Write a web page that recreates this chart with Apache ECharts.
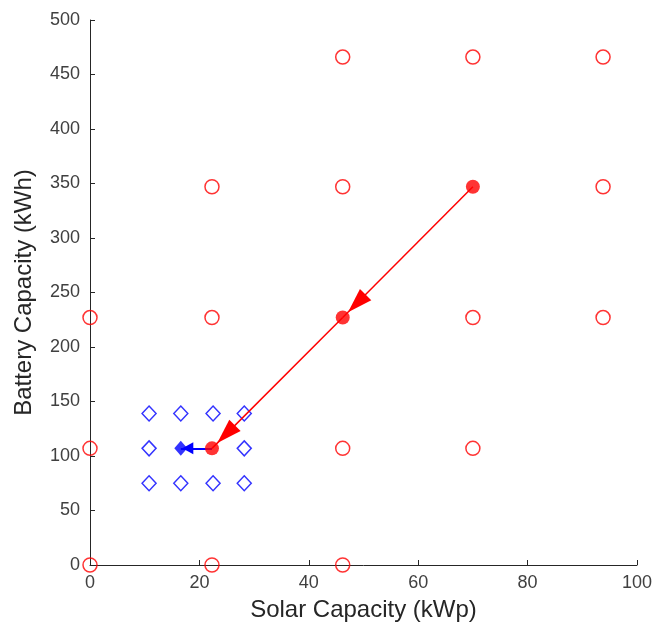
<!DOCTYPE html>
<html>
<head>
<meta charset="utf-8">
<script src="https://cdn.jsdelivr.net/npm/echarts@6/dist/echarts.min.js"></script>
<style>
  html, body { margin: 0; padding: 0; background: #fff; }
  #chart { width: 655px; height: 632px; }
</style>
</head>
<body>
<div id="chart"></div>
<script>
// Candidate sizes evaluated on the coarse grid (open red circles)
const coarseSolar   = [0, 22.3, 46.2, 0, 46.2, 70, 0, 22.3, 70, 93.8, 22.3, 46.2, 93.8, 46.2, 70, 93.8];
const coarseBattery = [0, 0, 0, 107, 107, 107, 227, 227, 227, 227, 347, 347, 347, 466, 466, 466];

// Accepted steps of the coarse search (filled red circles), in visiting order
const pathSolar   = [70, 46.2, 22.3];
const pathBattery = [347, 227, 107];

// Candidates on the refined grid (open blue diamonds)
const fineSolar   = [10.8, 16.6, 22.5, 28.2, 10.8, 28.2, 10.8, 16.6, 22.5, 28.2];
const fineBattery = [139, 139, 139, 139, 107, 107, 75, 75, 75, 75];

// Final optimum (filled blue diamond)
const bestSolar   = [16.6];
const bestBattery = [107];

const xTicks = { min: 0, max: 100, interval: 20 };
const yTicks = { min: 0, max: 500, interval: 50 };

const RED = '#ff0000';
const BLUE = '#0000ff';
const AXIS = '#262626';
const FONT = '"Liberation Sans", Arial, sans-serif';

const zip = (xs, ys) => xs.map((x, i) => [x, ys[i]]);

const pathPts = zip(pathSolar, pathBattery);
const redSegments = [];
for (let i = 0; i < pathPts.length - 1; i++) {
  redSegments.push([{ coord: pathPts[i] }, { coord: pathPts[i + 1] }]);
}
const bestPts = zip(bestSolar, bestBattery);
const blueSegments = [[{ coord: pathPts[pathPts.length - 1] }, { coord: bestPts[0] }]];

const chart = echarts.init(document.getElementById('chart'), null, { renderer: 'canvas' });

const axisCommon = {
  type: 'value',
  axisLine: { show: true, lineStyle: { color: AXIS, width: 1 } },
  axisTick: { show: true, inside: true, length: 5, lineStyle: { color: AXIS, width: 1 } },
  splitLine: { show: false },
  axisLabel: { color: '#404040', fontSize: 18, fontFamily: FONT },
  nameLocation: 'middle',
  nameTextStyle: { color: AXIS, fontSize: 24, fontFamily: FONT }
};

chart.setOption({
  animation: false,
  backgroundColor: '#fff',
  grid: { left: 90, top: 20, right: 18, bottom: 67, containLabel: false },
  xAxis: Object.assign({}, axisCommon, {
    min: xTicks.min, max: xTicks.max, interval: xTicks.interval,
    name: 'Solar Capacity (kWp)', nameGap: 33,
    axisLabel: Object.assign({}, axisCommon.axisLabel, { margin: 9 })
  }),
  yAxis: Object.assign({}, axisCommon, {
    min: yTicks.min, max: yTicks.max, interval: yTicks.interval,
    name: 'Battery Capacity (kWh)', nameGap: 54, nameRotate: 90,
    axisLabel: Object.assign({}, axisCommon.axisLabel, { margin: 10 })
  }),
  series: [
    {
      name: 'coarse',
      type: 'scatter',
      data: zip(coarseSolar, coarseBattery),
      symbol: 'circle',
      symbolSize: 14,
      itemStyle: { color: 'rgba(0,0,0,0)', borderColor: RED, borderWidth: 1.5 },
      z: 3
    },
    {
      name: 'fine',
      type: 'scatter',
      data: zip(fineSolar, fineBattery),
      symbol: 'diamond',
      symbolSize: [14, 15],
      itemStyle: { color: 'rgba(0,0,0,0)', borderColor: BLUE, borderWidth: 1.5 },
      z: 3
    },
    {
      name: 'coarse path',
      type: 'scatter',
      data: pathPts,
      symbol: 'circle',
      symbolSize: 14,
      itemStyle: { color: RED },
      z: 6,
      markLine: {
        silent: true,
        animation: false,
        symbol: ['none', 'triangle'],
        symbolSize: [16, 25],
        symbolOffset: [[0, 0], [0, 20]],
        label: { show: false },
        lineStyle: { color: RED, width: 1.5, type: 'solid', opacity: 1 },
        emphasis: { disabled: true },
        data: redSegments
      }
    },
    {
      name: 'refined path',
      type: 'scatter',
      data: bestPts,
      symbol: 'diamond',
      symbolSize: [13, 15],
      itemStyle: { color: BLUE },
      z: 5,
      markLine: {
        silent: true,
        animation: false,
        symbol: ['none', 'triangle'],
        symbolSize: [12, 11],
        symbolOffset: [[0, 0], [0, 7]],
        label: { show: false },
        lineStyle: { color: BLUE, width: 2, type: 'solid', opacity: 1 },
        emphasis: { disabled: true },
        data: blueSegments
      }
    }
  ]
});
</script>
</body>
</html>
